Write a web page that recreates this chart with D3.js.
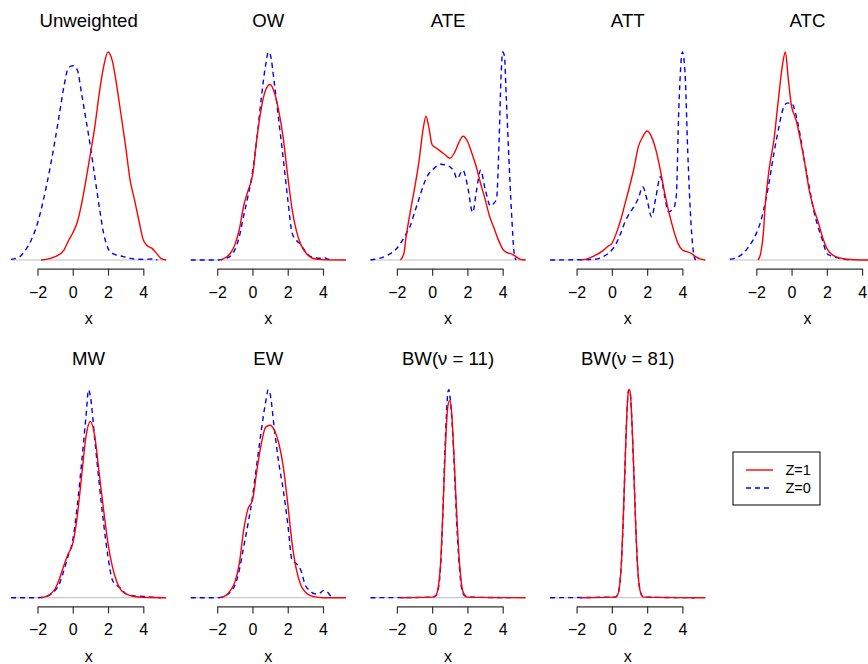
<!DOCTYPE html>
<html>
<head>
<meta charset="utf-8">
<script src="https://cdn.jsdelivr.net/npm/d3@7"></script>
<style>
  html, body { margin: 0; padding: 0; background: #fff; }
  svg { display: block; font-family: "Liberation Sans", Arial, Helvetica, sans-serif; }
</style>
</head>
<body>
<div id="chart"></div>
<script>
// ---- Data (kernel density estimates; y is density in arbitrary, per-panel units) ----
const panelTitles = ["Unweighted", "OW", "ATE", "ATT", "ATC", "MW", "EW", "BW(\u03BD = 11)", "BW(\u03BD = 81)"];
const xTicks = [-2, 0, 2, 4];
const xRange = [-3.5, 5.3];
const legendLabels = ["Z=1", "Z=0"];

// Z = 1 (red, solid)
const unwRed = [[-1.8,0],[-1.5,0.003],[-1,0.016],[-0.5,0.048],[-0.2,0.1],[0,0.13],[0.25,0.18],[0.5,0.27],[0.75,0.385],[1,0.51],[1.25,0.64],[1.5,0.80],[1.75,0.93],[2,1.0],[2.25,0.955],[2.5,0.835],[2.75,0.69],[3,0.545],[3.25,0.385],[3.5,0.29],[3.75,0.19],[4,0.096],[4.25,0.067],[4.5,0.056],[4.75,0.032],[5,0.008],[5.3,0]];
const owRed = [[-1.8,0],[-1.5,0.013],[-1.25,0.032],[-1,0.072],[-0.75,0.144],[-0.5,0.257],[-0.25,0.33],[0,0.40],[0.25,0.578],[0.5,0.722],[0.75,0.81],[1,0.835],[1.25,0.795],[1.5,0.706],[1.75,0.578],[2,0.40],[2.25,0.24],[2.5,0.136],[2.75,0.072],[3,0.037],[3.25,0.016],[3.5,0.006],[4,0.002],[5.3,0]];
const ateRed = [[-1.8,0],[-1.6,0.032],[-1.5,0.097],[-1.25,0.226],[-1,0.34],[-0.75,0.468],[-0.5,0.63],[-0.35,0.685],[-0.2,0.637],[0,0.548],[0.25,0.532],[0.5,0.516],[0.75,0.5],[1,0.484],[1.25,0.508],[1.5,0.556],[1.75,0.589],[2,0.565],[2.25,0.508],[2.5,0.444],[2.75,0.363],[3,0.29],[3.25,0.21],[3.5,0.153],[3.75,0.097],[4,0.052],[4.25,0.035],[4.5,0.029],[4.75,0.016],[5,0.003],[5.3,0]];
const attRed = [[-1.8,0],[-1.5,0.003],[-1,0.02],[-0.5,0.045],[-0.25,0.064],[0,0.08],[0.25,0.128],[0.5,0.192],[0.75,0.272],[1,0.352],[1.25,0.44],[1.5,0.544],[1.75,0.592],[2,0.62],[2.25,0.592],[2.5,0.528],[2.75,0.432],[3,0.32],[3.25,0.224],[3.5,0.144],[3.75,0.08],[4,0.048],[4.25,0.04],[4.5,0.032],[4.75,0.016],[5,0.005],[5.3,0]];
const atcRed = [[-1.9,0],[-1.75,0.032],[-1.6,0.128],[-1.5,0.257],[-1.25,0.45],[-1,0.578],[-0.75,0.77],[-0.5,0.947],[-0.35,1.0],[-0.2,0.883],[0,0.738],[0.15,0.698],[0.25,0.674],[0.5,0.578],[0.75,0.465],[1,0.337],[1.25,0.249],[1.5,0.185],[1.75,0.112],[2,0.056],[2.25,0.029],[2.5,0.016],[3,0.005],[3.5,0.002],[4,0],[5.3,0]];
const mwRed = [[-1.8,0],[-1.5,0.006],[-1.25,0.019],[-1,0.043],[-0.75,0.092],[-0.5,0.156],[-0.25,0.212],[0,0.26],[0.25,0.389],[0.5,0.582],[0.75,0.775],[1,0.847],[1.25,0.775],[1.5,0.598],[1.75,0.421],[2,0.26],[2.25,0.148],[2.5,0.076],[2.75,0.035],[3,0.019],[3.5,0.006],[4,0.002],[5.3,0]];
const ewRed = [[-1.8,0],[-1.5,0.011],[-1.25,0.035],[-1,0.075],[-0.75,0.163],[-0.5,0.324],[-0.25,0.428],[0,0.468],[0.25,0.612],[0.5,0.74],[0.75,0.82],[1,0.829],[1.25,0.804],[1.5,0.74],[1.75,0.628],[2,0.452],[2.25,0.26],[2.5,0.131],[2.75,0.059],[3,0.027],[3.25,0.011],[3.5,0.005],[4,0],[5.3,0]];
const bw11Red = [[-1.8,0],[0,0.003],[0.2,0.011],[0.35,0.052],[0.5,0.198],[0.6,0.392],[0.7,0.62],[0.8,0.814],[0.9,0.927],[1.0,0.947],[1.1,0.895],[1.2,0.749],[1.3,0.57],[1.4,0.392],[1.5,0.23],[1.6,0.117],[1.75,0.028],[2,0.003],[5.3,0]];
const bw81Red = [[-1.8,0],[0.2,0.003],[0.35,0.019],[0.45,0.067],[0.55,0.18],[0.65,0.388],[0.75,0.644],[0.85,0.885],[0.95,0.997],[1.0,1.0],[1.05,0.98],[1.15,0.82],[1.25,0.596],[1.35,0.356],[1.45,0.163],[1.55,0.059],[1.65,0.019],[1.8,0.003],[5.3,0]];

// Z = 0 (blue, dashed)
const unwBlue = [[-3.5,0.003],[-3,0.016],[-2.75,0.04],[-2.5,0.072],[-2,0.177],[-1.5,0.353],[-1,0.578],[-0.75,0.706],[-0.5,0.835],[-0.25,0.923],[0,0.934],[0.25,0.915],[0.5,0.80],[0.75,0.674],[1,0.546],[1.25,0.40],[1.5,0.257],[1.75,0.128],[2,0.056],[2.25,0.032],[2.5,0.024],[2.75,0.019],[3,0.013],[3.5,0.005],[4,0.003],[4.5,0.005],[4.8,0]];
const owBlue = [[-3.5,0],[-2,0],[-1.75,0.002],[-1.5,0.008],[-1.25,0.019],[-1,0.048],[-0.75,0.11],[-0.5,0.21],[-0.25,0.305],[0,0.417],[0.25,0.578],[0.5,0.77],[0.75,0.93],[0.9,0.99],[1,0.98],[1.25,0.835],[1.5,0.658],[1.75,0.48],[2,0.29],[2.25,0.128],[2.5,0.093],[2.75,0.072],[3,0.04],[3.25,0.019],[3.5,0.013],[3.75,0.008],[4.05,0.012],[4.25,0.005],[4.5,0]];
const ateBlue = [[-3.5,0],[-3,0.008],[-2.5,0.024],[-2,0.056],[-1.5,0.121],[-1.25,0.161],[-1,0.226],[-0.75,0.29],[-0.5,0.355],[-0.25,0.403],[0,0.427],[0.25,0.447],[0.5,0.456],[0.75,0.452],[1,0.444],[1.25,0.419],[1.4,0.387],[1.75,0.427],[2,0.355],[2.3,0.226],[2.5,0.323],[2.75,0.427],[3,0.34],[3.3,0.258],[3.5,0.27],[3.65,0.29],[3.8,0.58],[3.9,0.86],[4.0,0.99],[4.1,0.97],[4.2,0.78],[4.35,0.487],[4.5,0.226],[4.65,0.032],[4.75,0]];
const attBlue = [[-3.5,0],[-1,0.003],[-0.5,0.016],[-0.25,0.029],[0,0.048],[0.25,0.08],[0.5,0.128],[0.75,0.184],[1,0.224],[1.25,0.256],[1.5,0.296],[1.75,0.352],[2,0.288],[2.25,0.208],[2.5,0.304],[2.75,0.40],[3,0.304],[3.2,0.232],[3.5,0.248],[3.65,0.304],[3.8,0.736],[4,1.0],[4.15,0.9],[4.3,0.528],[4.5,0.16],[4.65,0.024],[4.75,0]];
const atcBlue = [[-3.5,0.003],[-3,0.016],[-2.5,0.056],[-2,0.128],[-1.75,0.185],[-1.5,0.273],[-1.25,0.385],[-1,0.514],[-0.75,0.626],[-0.5,0.722],[-0.25,0.754],[0,0.754],[0.25,0.698],[0.5,0.594],[0.75,0.465],[1,0.353],[1.25,0.24],[1.5,0.16],[1.75,0.096],[2,0.032],[2.25,0.019],[2.5,0.013],[3,0.003],[3.5,0]];
const mwBlue = [[-3.5,0],[-2,0],[-1.5,0.006],[-1.25,0.016],[-1,0.035],[-0.75,0.068],[-0.5,0.132],[-0.25,0.204],[0,0.277],[0.25,0.437],[0.5,0.646],[0.75,0.871],[0.9,1.0],[1,0.968],[1.25,0.759],[1.5,0.55],[1.75,0.357],[2,0.196],[2.25,0.084],[2.5,0.059],[2.75,0.043],[3,0.019],[3.5,0.008],[4,0.006],[4.5,0.003],[5,0]];
const ewBlue = [[-3.5,0],[-2,0],[-1.75,0.003],[-1.5,0.011],[-1.25,0.027],[-1,0.059],[-0.75,0.131],[-0.5,0.244],[-0.25,0.356],[0,0.484],[0.25,0.644],[0.5,0.804],[0.75,0.942],[0.9,1.0],[1,0.98],[1.25,0.804],[1.5,0.644],[1.75,0.516],[2,0.356],[2.25,0.179],[2.5,0.163],[2.75,0.131],[3,0.059],[3.25,0.035],[3.5,0.019],[3.75,0.019],[4.05,0.035],[4.25,0.027],[4.5,0.003],[4.6,0]];
const bw11Blue = [[-3.5,0],[0,0.002],[0.2,0.008],[0.35,0.043],[0.5,0.181],[0.6,0.392],[0.7,0.652],[0.8,0.862],[0.9,0.992],[0.95,1.0],[1.0,0.976],[1.1,0.879],[1.2,0.733],[1.3,0.538],[1.4,0.344],[1.5,0.198],[1.6,0.092],[1.75,0.019],[2,0.003],[4.7,0]];
const bw81Blue = [[-3.5,0],[0.2,0.003],[0.35,0.019],[0.45,0.067],[0.55,0.18],[0.65,0.388],[0.75,0.644],[0.85,0.885],[0.95,0.997],[1.0,0.999],[1.05,0.98],[1.15,0.82],[1.25,0.596],[1.35,0.356],[1.45,0.163],[1.55,0.059],[1.65,0.019],[1.8,0.003],[4.7,0]];

const redSeries = [unwRed, owRed, ateRed, attRed, atcRed, mwRed, ewRed, bw11Red, bw81Red];
const blueSeries = [unwBlue, owBlue, ateBlue, attBlue, atcBlue, mwBlue, ewBlue, bw11Blue, bw81Blue];

// ---- Layout ----
const W = 868, H = 664;
const colStep = 179.7, rowStep = 337.7;
const x0 = 37.5, x1 = 143.3;      // pixel positions of x = -2 and x = 4 in first column
const baseY = 260, peakH = 208;    // zero line and peak height in first row
const RED = "#FF0000", BLUE = "#0000FF";

const svg = d3.select("#chart").append("svg")
  .attr("width", W).attr("height", H).attr("viewBox", `0 0 ${W} ${H}`);

panelTitles.forEach((title, i) => {
  const col = i % 5, row = Math.floor(i / 5);
  const ox = col * colStep, oy = row * rowStep;
  const red = redSeries[i], blue = blueSeries[i];
  const ymax = d3.max(red.concat(blue), d => d[1]);

  const x = d3.scaleLinear().domain([-2, 4]).range([x0 + ox, x1 + ox]);
  const y = d3.scaleLinear().domain([0, ymax]).range([baseY + oy, baseY + oy - peakH]);

  const g = svg.append("g");

  // zero line
  g.append("line")
    .attr("x1", x(xRange[0])).attr("x2", x(xRange[1]))
    .attr("y1", y(0)).attr("y2", y(0))
    .attr("stroke", "#bdbdbd").attr("stroke-width", 1);

  const line = d3.line().x(d => x(d[0])).y(d => y(d[1])).curve(d3.curveMonotoneX);

  g.append("path").datum(blue)
    .attr("d", line).attr("fill", "none")
    .attr("stroke", BLUE).attr("stroke-width", 1.4)
    .attr("stroke-dasharray", "5,4");

  g.append("path").datum(red)
    .attr("d", line).attr("fill", "none")
    .attr("stroke", RED).attr("stroke-width", 1.4).attr("stroke-linejoin", "round");

  // x axis
  const axisY = baseY + oy + 8.7;
  const ax = g.append("g").attr("transform", `translate(0,${axisY})`)
    .call(d3.axisBottom(x).tickValues(xTicks).tickSize(7).tickSizeOuter(0)
      .tickFormat(d => d < 0 ? "\u2212" + Math.abs(d) : String(d)));
  ax.select(".domain").attr("stroke", "#333").attr("stroke-width", 1.2);
  ax.selectAll(".tick line").attr("stroke", "#333").attr("stroke-width", 1.2);
  ax.selectAll(".tick text")
    .attr("y", 0).attr("dy", null)
    .attr("transform", "translate(0,29)")
    .attr("fill", "#000")
    .style("font-size", "16px")
    .style("font-family", "'Liberation Sans', Arial, sans-serif");

  // x label
  g.append("text")
    .attr("x", (x(xRange[0]) + x(xRange[1])) / 2)
    .attr("y", baseY + oy + 64)
    .attr("text-anchor", "middle")
    .style("font-size", "16px")
    .text("x");

  // title
  g.append("text")
    .attr("x", (x(xRange[0]) + x(xRange[1])) / 2)
    .attr("y", 27.3 + oy)
    .attr("text-anchor", "middle")
    .style("font-size", "18.6px")
    .text(title);
});

// ---- Legend ----
const lg = svg.append("g");
lg.append("rect")
  .attr("x", 733).attr("y", 452).attr("width", 87).attr("height", 53)
  .attr("fill", "none").attr("stroke", "#000").attr("stroke-width", 1);
const legendColors = [RED, BLUE];
const legendDash = [null, "5,4"];
legendLabels.forEach((lab, k) => {
  const ly = 470 + k * 18;
  lg.append("line")
    .attr("x1", 746).attr("x2", 773).attr("y1", ly).attr("y2", ly)
    .attr("stroke", legendColors[k]).attr("stroke-width", 1.4)
    .attr("stroke-dasharray", legendDash[k]);
  lg.append("text")
    .attr("x", 785.5).attr("y", ly + 5)
    .style("font-size", "14.5px")
    .text(lab);
});
</script>
</body>
</html>
